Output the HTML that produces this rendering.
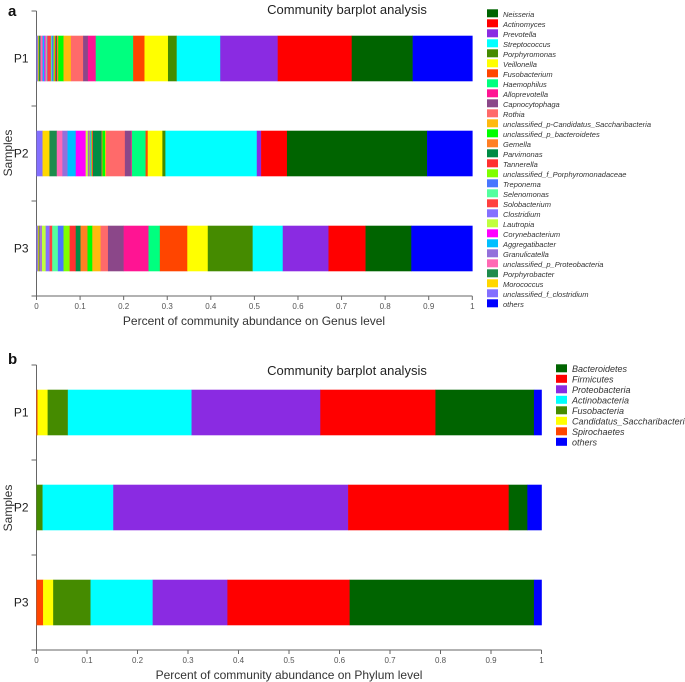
<!DOCTYPE html>
<html><head><meta charset="utf-8">
<style>
body{margin:0;background:#fff;}
svg{display:block;font-family:"Liberation Sans",Arial,sans-serif;}
</style></head>
<body>
<svg id="c" width="685" height="682" viewBox="0 0 685 682" xmlns="http://www.w3.org/2000/svg">
<text x="8" y="16" font-size="15" font-weight="bold" fill="#111">a</text>
<text x="8" y="364" font-size="15" font-weight="bold" fill="#111">b</text>
<text x="347" y="14" font-size="13" text-anchor="middle" fill="#222">Community barplot analysis</text>
<text x="347" y="375" font-size="13" text-anchor="middle" fill="#222">Community barplot analysis</text>
<text x="254" y="325" font-size="12" text-anchor="middle" fill="#333">Percent of community abundance on Genus level</text>
<text x="289" y="679" font-size="12" text-anchor="middle" fill="#333">Percent of community abundance on Phylum level</text>
<text transform="translate(12,153) rotate(-90)" font-size="12" text-anchor="middle" fill="#333">Samples</text>
<text transform="translate(12,508) rotate(-90)" font-size="12" text-anchor="middle" fill="#333">Samples</text>
<g id="g1"></g><g id="g2"></g>
</svg>
<script>
const samples = ["P1","P2","P3"];
const genusNames = ["unclassified_f_clostridium","Morococcus","Porphyrobacter","unclassified_p_Proteobacteria","Granulicatella","Aggregatibacter","Corynebacterium","Lautropia","Clostridium","Solobacterium","Selenomonas","Treponema","unclassified_f_Porphyromonadaceae","Tannerella","Parvimonas","Gemella","unclassified_p_bacteroidetes","unclassified_p-Candidatus_Saccharibacteria","Rothia","Capnocytophaga","Alloprevotella","Haemophilus","Fusobacterium","Veillonella","Porphyromonas","Streptococcus","Prevotella","Actinomyces","Neisseria","others"];
const genusColors = ["#836fff","#ffd700","#1e8b4c","#ff69b4","#9370db","#00bfff","#ff00ff","#c0ff3e","#8470ff","#ff4040","#54ff9f","#4876ff","#7fff00","#ff3030","#008b45","#ff7f24","#00ff00","#ffb90f","#ff6a6a","#8b4789","#ff1493","#00ff7f","#ff4500","#ffff00","#458b00","#00ffff","#8a2be2","#ff0000","#006400","#0000ff"];
const genusP1 = [.003,.002,.004,.004,.002,.003,.003,.002,.002,.008,.002,.004,.003,.003,.002,.003,.012,.017,.028,.011,.018,.086,.026,.054,.02,.1,.132,.17,.14,.137];
const genusP2 = [.014,.016,.017,.013,.012,.019,.023,.005,.002,.002,.002,.002,.002,.002,.02,.002,.006,.002,.044,.014,.002,.032,.005,.034,.007,.212,.01,.06,.325,.105];
const genusP3 = [.003,.002,.002,.002,.001,.001,.001,.009,.009,.006,.013,.013,.014,.014,.011,.016,.011,.019,.017,.036,.057,.026,.063,.047,.103,.069,.105,.085,.105,.14];
const genusLegendNames = ["Neisseria","Actinomyces","Prevotella","Streptococcus","Porphyromonas","Veillonella","Fusobacterium","Haemophilus","Alloprevotella","Capnocytophaga","Rothia","unclassified_p-Candidatus_Saccharibacteria","unclassified_p_bacteroidetes","Gemella","Parvimonas","Tannerella","unclassified_f_Porphyromonadaceae","Treponema","Selenomonas","Solobacterium","Clostridium","Lautropia","Corynebacterium","Aggregatibacter","Granulicatella","unclassified_p_Proteobacteria","Porphyrobacter","Morococcus","unclassified_f_clostridium","others"];
const phylumNames = ["Spirochaetes","Candidatus_Saccharibacteria","Fusobacteria","Actinobacteria","Proteobacteria","Firmicutes","Bacteroidetes","others"];
const phylumColors = ["#ff4500","#ffff00","#458b00","#00ffff","#8a2be2","#ff0000","#006400","#0000ff"];
const phylumP1 = [.002,.02,.04,.245,.255,.228,.195,.015];
const phylumP2 = [0,0,.012,.14,.465,.318,.037,.028];
const phylumP3 = [.013,.02,.074,.123,.148,.242,.365,.015];
const phylumLegendNames = ["Bacteroidetes","Firmicutes","Proteobacteria","Actinobacteria","Fusobacteria","Candidatus_Saccharibacteria","Spirochaetes","others"];
const xTicks = [0,0.1,0.2,0.3,0.4,0.5,0.6,0.7,0.8,0.9,1];
const xTickLabels = ["0","0.1","0.2","0.3","0.4","0.5","0.6","0.7","0.8","0.9","1"];

const NS="http://www.w3.org/2000/svg";
function mk(parent,tag,attrs){const e=document.createElementNS(NS,tag);for(const k in attrs)e.setAttribute(k,attrs[k]);parent.appendChild(e);return e;}

function drawChart(g,cfg){
  const xs=v=>cfg.x0+v*(cfg.x1-cfg.x0);
  const band=(cfg.yb-cfg.yt)/3;
  const yCat=i=>cfg.yt+band*i;
  const ya=mk(g,'line',{x1:cfg.x0,y1:cfg.yt,x2:cfg.x0,y2:cfg.yb,stroke:'#666','stroke-width':1});
  
  
  const xa=mk(g,'line',{x1:cfg.x0,y1:cfg.yb,x2:cfg.x1,y2:cfg.yb,stroke:'#666','stroke-width':1});
  
  
  for(let i=0;i<=3;i++){
    const t=mk(g,'line',{x1:cfg.x0-5,y1:yCat(i),x2:cfg.x0,y2:yCat(i),stroke:'#666'});
    
    
  }
  xTicks.forEach((v,i)=>{
    const t=mk(g,'line',{x1:xs(v),y1:cfg.yb,x2:xs(v),y2:cfg.yb+4,stroke:'#666'});
    
    
    const l=mk(g,'text',{x:xs(v),y:cfg.yb+13,'font-size':8,'text-anchor':'middle',fill:'#555'});
    l.textContent=xTickLabels[i];
    
    
  });
  cfg.data.forEach((vals,si)=>{
    const tot=vals.reduce((a,b)=>a+b,0);
    let acc=0;
    const y=yCat(si)+band*0.26, h=band*0.48;
    vals.forEach((v,k)=>{
      const x=xs(acc/tot), w=xs((acc+v)/tot)-x; acc+=v;
      if(v<=0)return;
      const r=mk(g,'rect',{x:x,y:y,width:w+0.3,height:h,fill:cfg.colors[k]});
      
      
    });
    const l=mk(g,'text',{x:cfg.x0-8,y:yCat(si)+band/2+4,'font-size':12,'text-anchor':'end',fill:'#222'});
    l.textContent=samples[si];
    
    
  });
  cfg.legend.forEach((n,i)=>{
    const k=cfg.names.indexOf(n);
    const y=cfg.ly+i*cfg.ls;
    const s=mk(g,'rect',{x:cfg.lx,y:y,width:11,height:8,fill:cfg.colors[k]});
    
    
    const t=mk(g,'text',{x:cfg.lx+cfg.tdx,y:y+7.5,'font-size':cfg.lfs,'font-style':'italic',fill:'#333'});
    t.textContent=n;
    
    
  });
}
drawChart(document.getElementById('g1'),{pre:'genus',x0:36.5,x1:472.3,yt:11,yb:296,data:[genusP1,genusP2,genusP3],names:genusNames,colors:genusColors,legend:genusLegendNames,lx:487,ly:9.3,ls:10,tdx:16,lfs:7.5});
drawChart(document.getElementById('g2'),{pre:'phylum',x0:36.5,x1:541.5,yt:365,yb:650,data:[phylumP1,phylumP2,phylumP3],names:phylumNames,colors:phylumColors,legend:phylumLegendNames,lx:556,ly:364.3,ls:10.5,tdx:16,lfs:9});
</script>
</body></html>
